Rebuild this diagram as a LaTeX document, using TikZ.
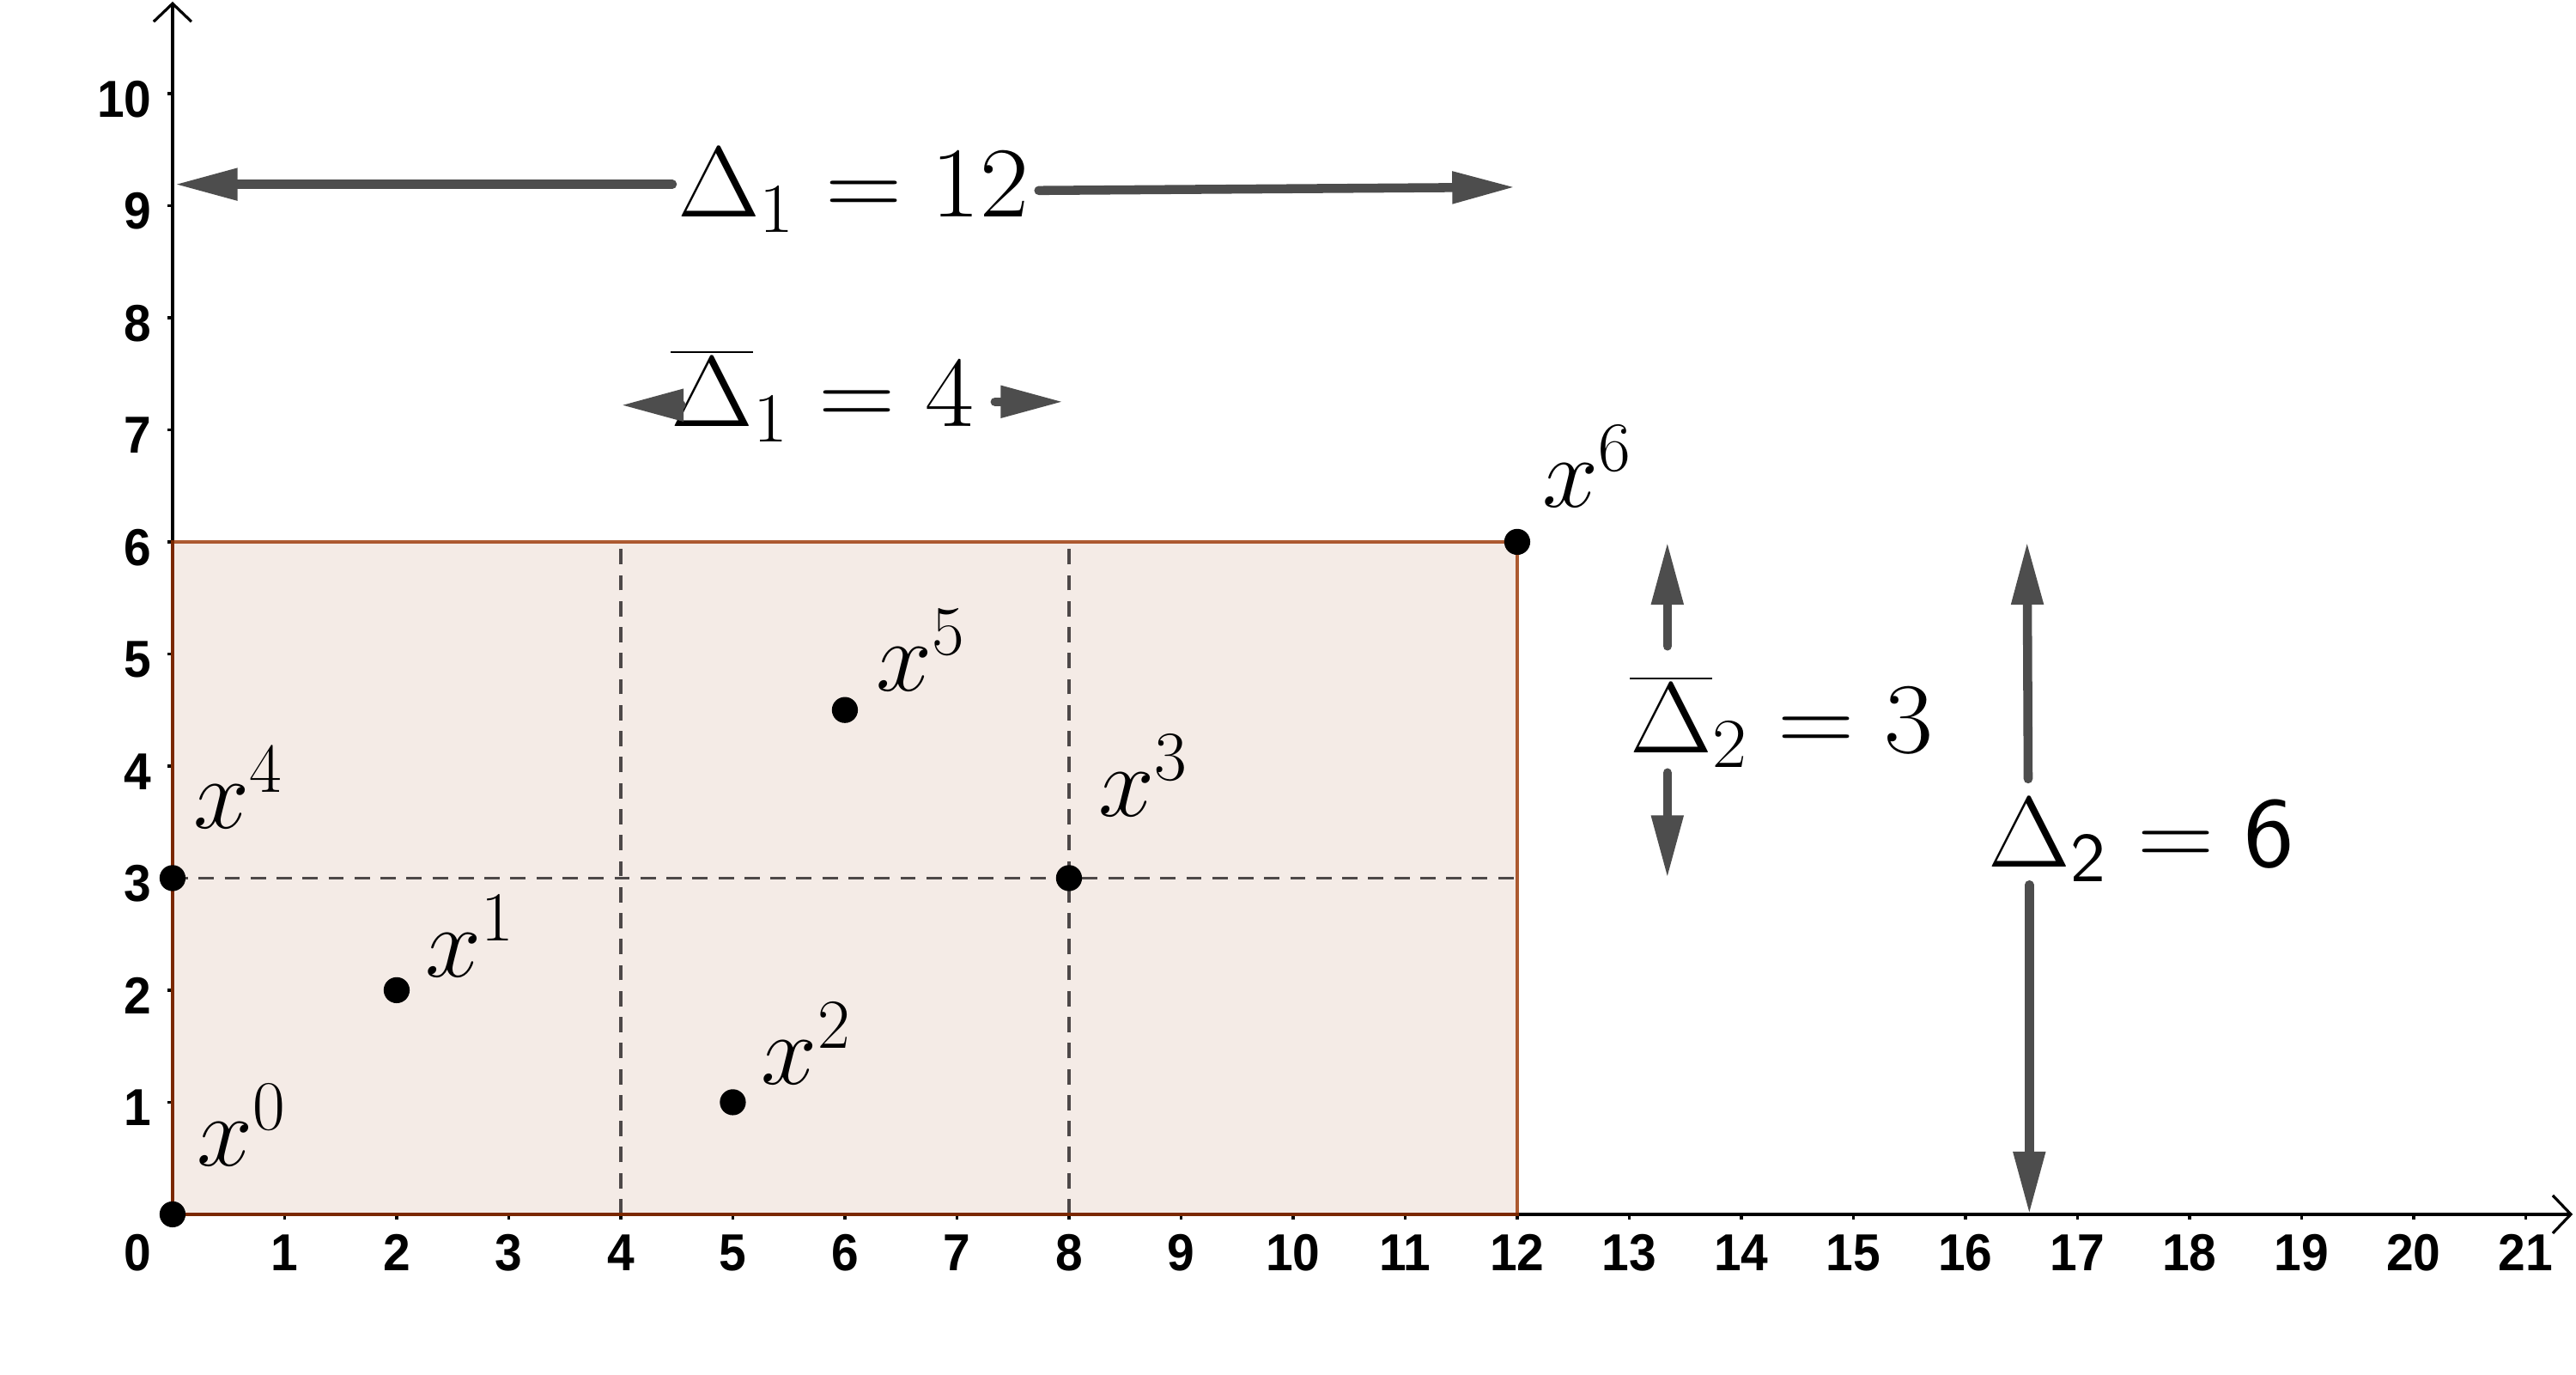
\RequirePackage{fix-cm}
\documentclass[tikz,border=0pt]{standalone}
\usepackage[no-math]{fontspec}
\usepackage{graphicx}
\newfontfamily\tickfont{Liberation Sans}[FakeStretch=0.94]
\usetikzlibrary{arrows.meta}
\definecolor{dimarrow}{HTML}{4D4D4D}
\definecolor{polyfill}{HTML}{F4EBE6}
\definecolor{polyedge}{HTML}{993300}
\definecolor{dashcol}{HTML}{4D4848}
\newcommand{\widemath}[1]{\scalebox{1.06}[1]{#1}}
\begin{document}
\begin{tikzpicture}[x=1cm,y=1cm,
  axisline/.style={draw=black, line width=0.7pt, -{Straight Barb[length=4.6pt,width=9.6pt,line width=0.7pt]}},
  tickmark/.style={draw=black, line width=0.7pt},
  ticklabel/.style={inner sep=0pt, font=\tickfont\bfseries\fontsize{13.2}{15}\selectfont},
  gridline/.style={draw=dashcol, line width=0.8pt, dash pattern=on 3.9pt off 2.7pt},
  dotpt/.style={circle, fill=black, inner sep=0pt, minimum size=0.232cm},
  ptlabel/.style={inner sep=0pt, anchor=base west, font=\fontsize{25.5}{30}\selectfont},
  dimlabel/.style={inner sep=0pt, anchor=base west, font=\fontsize{25.5}{30}\selectfont},
  dimarr/.style={draw=dimarrow, line width=2.3pt, line cap=round,
    -{Triangle[length=0.56cm,width=0.27cm]}}
]
\useasboundingbox (-1.540,-1.433) rectangle (21.449,10.835);

% shaded box
\fill[polyfill] (0,0) rectangle (12,6);

% dashed grid
\coordinate (g4b) at (4,0); \coordinate (g4t) at (4,6);
\coordinate (g8b) at (8,0); \coordinate (g8t) at (8,6);
\coordinate (g3l) at (0,3); \coordinate (g3r) at (12,3);
\draw[gridline] (g4b) -- (g4t);
\draw[gridline] (g8b) -- (g8t);
\draw[gridline] (g3l) -- (g3r);

% axes
\coordinate (O) at (0,0);
\coordinate (xend) at (21.42,0);
\coordinate (yend) at (0,10.82);
\draw[axisline] (O) -- (xend);
\draw[axisline] (O) -- (yend);

% ticks and labels
\foreach \i in {1,...,21} {
  \draw[tickmark] (\i,0) -- (\i,-0.045);
  \node[ticklabel, anchor=north] (xt\i) at (\i,-0.175) {\i};
}
\foreach \i in {1,...,10} {
  \draw[tickmark] (0,\i) -- (-0.045,\i);
  \node[ticklabel, anchor=east] (yt\i) at (-0.18,{\i-0.05}) {\i};
}
\node[ticklabel, anchor=north] (xt0) at (-0.31,-0.175) {0};

% box border
\draw[polyedge, line width=0.7pt, opacity=0.8] (0,0) rectangle (12,6);

% points
\node[dotpt] (p0) at (0,0) {};
\node[dotpt] (p1) at (2,2) {};
\node[dotpt] (p2) at (5,1) {};
\node[dotpt] (p3) at (8,3) {};
\node[dotpt] (p4) at (0,3) {};
\node[dotpt] (p5) at (6,4.5) {};
\node[dotpt] (p6) at (12,6) {};

\node[ptlabel] (l0) at (0.21,0.43) {$x^0$};
\node[ptlabel] (l1) at (2.25,2.115) {$x^1$};
\node[ptlabel] (l2) at (5.25,1.16) {$x^2$};
\node[ptlabel] (l3) at (8.26,3.55) {$x^3$};
\node[ptlabel] (l4) at (0.18,3.44) {$x^4$};
\node[ptlabel] (l5) at (6.27,4.67) {$x^5$};
\node[ptlabel] (l6) at (12.22,6.31) {$x^6$};

% dimension labels
\node[dimlabel] (D1) at (4.50,8.90) {\widemath{$\Delta_1 = 12$}};
\node[dimlabel] (D1bar) at (4.44,7.03) {\widemath{$\overline{\Delta}_1 = 4$}};
\node[dimlabel] (D2bar) at (13.00,4.12) {\widemath{$\overline{\Delta}_2 = 3$}};
\node[dimlabel] (D2) at (16.20,3.10) {\widemath{$\Delta_{\mathsf{2}} = \mathsf{6}$}};

% dimension arrows
\coordinate (a1s) at (4.46,9.19);  \coordinate (a1e) at (0.02,9.19);
\coordinate (a2s) at (7.73,9.135); \coordinate (a2e) at (11.98,9.165);
\coordinate (b1s) at (4.52,7.22);  \coordinate (b1e) at (4.00,7.22);
\coordinate (b2s) at (7.34,7.25);  \coordinate (b2e) at (7.95,7.25);
\coordinate (c1s) at (13.34,5.07); \coordinate (c1e) at (13.34,6.00);
\coordinate (c2s) at (13.34,3.94); \coordinate (c2e) at (13.34,3.00);
\coordinate (d1s) at (16.56,3.885); \coordinate (d1e) at (16.55,6.00);
\coordinate (d2s) at (16.57,2.94); \coordinate (d2e) at (16.57,0.00);
\draw[dimarr] (a1s) -- (a1e);
\draw[dimarr] (a2s) -- (a2e);
\draw[dimarr] (b1s) -- (b1e);
\draw[dimarr] (b2s) -- (b2e);
\draw[dimarr] (c1s) -- (c1e);
\draw[dimarr] (c2s) -- (c2e);
\draw[dimarr] (d1s) -- (d1e);
\draw[dimarr] (d2s) -- (d2e);
\end{tikzpicture}
\end{document}
